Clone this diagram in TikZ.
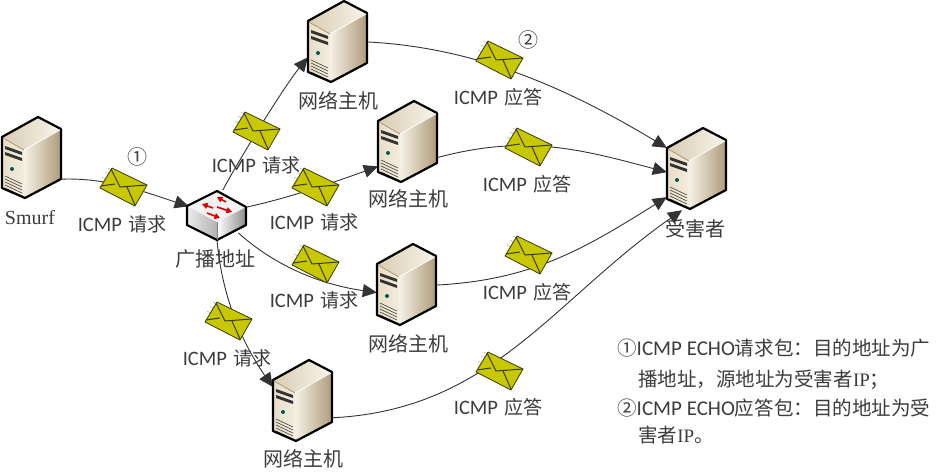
\documentclass[tikz,border=0pt]{standalone}
\usepackage{fontspec}
\setmainfont{Carlito}
\newfontfamily\cjk{Noto Sans CJK SC}
\newfontfamily\cjkb[Scale=0.93]{Noto Sans CJK SC}
\newfontfamily\serifl{Liberation Serif}
\usetikzlibrary{arrows.meta,shapes.geometric}
\definecolor{txt}{HTML}{3C3C3C}
\definecolor{envy}{HTML}{C8C800}
\definecolor{envd}{HTML}{3A3A10}
\definecolor{srvtopa}{HTML}{D8CCB2}
\definecolor{srvtopb}{HTML}{F8F5EC}
\definecolor{srvfra}{HTML}{E8DDC6}
\definecolor{srvfrb}{HTML}{F4EEDF}
\definecolor{srvra}{HTML}{F6F1E6}
\definecolor{srvrb}{HTML}{AE9B7A}
\definecolor{srvln}{HTML}{A8906A}
\tikzset{
  x=1pt,y=1pt,
  hostbox/.style={draw=none,rectangle,inner sep=0pt,minimum width=60pt,minimum height=82pt},
  swbox/.style={draw=none,ellipse,inner sep=0pt,minimum width=60pt,minimum height=50pt},
  envbox/.style={draw=none,rectangle,inner sep=0pt,minimum width=46pt,minimum height=38pt},
  lab/.style={text=txt,inner sep=0pt,font=\fontsize{20.5}{22}\selectfont},
  namelab/.style={text=txt,inner sep=0pt,font=\fontsize{20}{22}\selectfont\cjk},
  notelab/.style={text=txt,inner sep=0pt,anchor=west,font=\fontsize{21}{23}\selectfont},
  link/.style={draw=black!80,line width=0.9pt,-{Triangle[length=14pt,width=13pt]}},
  redarrow/.style={red!85!black,line width=1.6pt,-{Triangle[length=5.5pt,width=6pt]}},
  pics/srv/.style={code={
    \begin{scope}[y=-1pt]
      \path[left color=srvfra,right color=srvfrb]
        (-30,-21)--(-8,-8)--(-7,40)--(-30,30)--cycle;
      \path[left color=srvtopa,right color=srvtopb]
        (-30,-21)--(6,-41)--(29,-29)--(-8,-8)--cycle;
      \path[left color=srvra,right color=srvrb]
        (-8,-8)--(29,-29)--(29,21)--(-7,40)--cycle;
      \path[fill=black!80] (-27,-12)--(-10,-6)--(-10,-3)--(-27,-9)--cycle
        (-27,-6)--(-10,0)--(-10,3)--(-27,-3)--cycle;
      \fill[teal!70!black] (-20,11) circle (2pt);
      \foreach \v in {20,23,26,29,32}{
        \draw[black!75,line width=0.6pt] (-27,\v-2)--(-10,\v+6);}
      \draw[black,line width=2.2pt,line join=round]
        (-30,-21)--(6,-41)--(29,-29)--(29,21)--(-7,40)--(-30,30)--cycle;
      \draw[srvln,line width=0.7pt] (-29,-20)--(-8,-8);
      \draw[white,line width=0.8pt] (-8,-8)--(28,-28);
    \end{scope}
  }},
  pics/swt/.style={code={
    \begin{scope}[y=-1pt]
      \path[left color=black!8,right color=black!30] (-30,-9)--(0,7)--(0,25)--(-30,10)--cycle;
      \path[left color=white,right color=black!45] (0,7)--(29,-8)--(29,10)--(0,25)--cycle;
      \path[fill=black!5] (0,-24)--(29,-8)--(0,7)--(-30,-9)--cycle;
      \draw[redarrow] (9,-13)--(0,-18);
      \draw[redarrow] (-4,-7)--(-15,-11);
      \draw[redarrow] (0,-8)--(15,-3);
      \draw[redarrow] (-10,-2)--(3,3);
      \draw[black,line width=2.2pt,line join=round]
        (0,-24)--(29,-8)--(29,10)--(0,25)--(-30,10)--(-30,-9)--cycle;
      \draw[black!50,line width=0.5pt] (0,7)--(0,25);
    \end{scope}
  }},
  pics/env/.style={code={
    \begin{scope}[y=-1pt]
      \draw[black!40,line width=0.4pt] (-15,-19)--(-10,-16) (-18,-15)--(-13,-12) (-21,-10)--(-16,-7);
      \draw[fill=envy,draw=envd,line width=0.8pt,line join=round]
        (-11,-19)--(24,-2)--(12,19)--(-23,1)--cycle;
      \draw[draw=envd,line width=1pt,line join=round]
        (-12,-18)--(-3,0)--(24,-2) (-22,-1)--(-8,-3) (12,18)--(4,0);
    \end{scope}
  }},
}
\begin{document}
\begin{tikzpicture}
\useasboundingbox (0,0) rectangle (937,-473);
% servers and switch
\node[hostbox] (smurf) at (32,-158) {};
\node[hostbox] (h1) at (338,-42) {};
\node[hostbox] (h2) at (408,-142) {};
\node[hostbox] (h3) at (407,-285) {};
\node[hostbox] (h4) at (303,-401) {};
\node[hostbox] (vic) at (697,-169) {};
\node[swbox] (sw) at (217,-215) {};
% connectors
\draw[link] (smurf.-35) to[out=2,in=162,looseness=0.9] (sw.163);
\draw[link] (sw.77) to[out=62,in=231,looseness=0.6] (h1.207);
\draw[link] (sw.15) to[out=12,in=200,looseness=0.8] (h2.219);
\draw[link] (sw.-40) to[out=-42,in=172,looseness=0.9] (h3.194);
\draw[link] (sw.-90) to[out=-85,in=125,looseness=0.9] (h4.155);
\draw[link] (h1.east) to[out=-3,in=149,looseness=0.9] (vic.145);
\draw[link] (h2.-27) to[out=15,in=165,looseness=1] (vic.186);
\draw[link] (h3.east) to[out=3,in=212,looseness=1] (vic.223);
\draw[link] (h4.-29) to[out=3,in=215,looseness=1] (vic.250);
% icons
\foreach \n in {smurf,h1,h2,h3,h4,vic}{\pic at (\n) {srv};}
\pic at (sw) {swt};
\foreach \n/\p in {e0/{123,-187},e1/{256,-131},e2/{315,-187},e3/{315,-264},e4/{228,-321},e5/{499,-60},e6/{528,-147},e7/{528,-255},e8/{499,-371}}{
  \node[envbox] (\n) at (\p) {};
  \pic at (\n) {env};
}
% labels
\node[lab] (l0) at (122,-224) {ICMP\hspace{6pt}{\cjkb 请求}};
\node[lab] (l1) at (256,-165) {ICMP\hspace{6pt}{\cjkb 请求}};
\node[lab] (l2) at (314,-222) {ICMP\hspace{6pt}{\cjkb 请求}};
\node[lab] (l3) at (314,-300) {ICMP\hspace{6pt}{\cjkb 请求}};
\node[lab] (l4) at (227,-358) {ICMP\hspace{6pt}{\cjkb 请求}};
\node[lab] (l5) at (498,-97) {ICMP\hspace{6pt}{\cjkb 应答}};
\node[lab] (l6) at (527,-184) {ICMP\hspace{6pt}{\cjkb 应答}};
\node[lab] (l7) at (527,-292) {ICMP\hspace{6pt}{\cjkb 应答}};
\node[lab] (l8) at (498,-407) {ICMP\hspace{6pt}{\cjkb 应答}};
\node[namelab] (n1) at (338,-101) {网络主机};
\node[namelab] (n2) at (408,-199) {网络主机};
\node[namelab] (n3) at (408,-344) {网络主机};
\node[namelab] (n4) at (303,-459) {网络主机};
\node[namelab] (nv) at (695,-229) {受害者};
\node[namelab] (nb) at (215,-259) {广播地址};
\node[text=txt,inner sep=0pt,font=\fontsize{20}{22}\selectfont\serifl] (ns) at (30,-218) {Smurf};
\node[namelab] (c1) at (137,-157) {①};
\node[namelab] (c2) at (528,-40) {②};
\node[notelab] (t1) at (617,-348) {{\cjkb ①}ICMP ECHO{\cjkb 请求包：目的地址为广}};
\node[notelab] (t2) at (638,-380) {{\cjkb 播地址，源地址为受害者}{\serifl\fontsize{19}{22}\selectfont IP}{\cjkb ；}};
\node[notelab] (t3) at (617,-408) {{\cjkb ②}ICMP ECHO{\cjkb 应答包：目的地址为受}};
\node[notelab] (t4) at (638,-435) {{\cjkb 害者}{\serifl\fontsize{19}{22}\selectfont IP}{\cjkb 。}};
\end{tikzpicture}
\end{document}
